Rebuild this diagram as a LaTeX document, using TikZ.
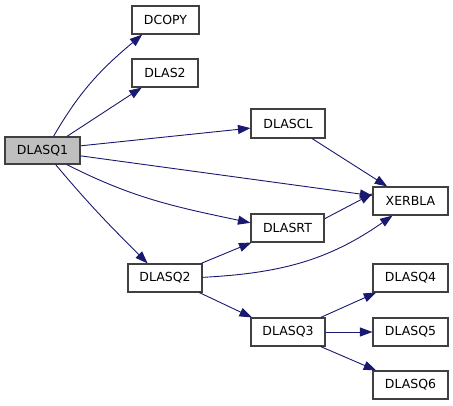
\documentclass[tikz,border=0pt]{standalone}
\usepackage{fontspec}
\setmainfont{DejaVu Sans}
\usetikzlibrary{arrows.meta}
\definecolor{edgec}{HTML}{191970}
\definecolor{boxc}{HTML}{404040}
\definecolor{mainfill}{HTML}{BFBFBF}
\begin{document}
\begin{tikzpicture}[x=1pt,y=-1pt,
  fn/.style={draw=boxc, line width=1.1pt, fill=white, minimum height=28pt, minimum width=74pt, inner sep=0pt, font=\fontsize{12.5}{14}\selectfont},
  call/.style={draw=edgec, line width=0.9pt, -{Triangle[length=12.5pt,width=9pt]}}]
\useasboundingbox (0,0) rectangle (453,405);
\node[fn, fill=mainfill, minimum width=75pt, minimum height=27pt] (dlasq1) at (42.5,150.5) {DLASQ1};
\node[fn, minimum width=67pt] (dcopy) at (165.5,20) {DCOPY};
\node[fn, minimum width=66pt] (dlas2) at (165,73) {DLAS2};
\node[fn, minimum height=29pt] (dlascl) at (288,123.5) {DLASCL};
\node[fn, minimum width=75pt] (xerbla) at (410.5,201) {XERBLA};
\node[fn, minimum width=73pt] (dlasrt) at (287.5,228) {DLASRT};
\node[fn] (dlasq2) at (165,278) {DLASQ2};
\node[fn] (dlasq3) at (288,332) {DLASQ3};
\node[fn, minimum width=75pt] (dlasq4) at (410.5,278) {DLASQ4};
\node[fn, minimum width=75pt] (dlasq5) at (410.5,332) {DLASQ5};
\node[fn, minimum width=75pt] (dlasq6) at (410.5,385) {DLASQ6};

\draw[call] (dlasq1.52) to[out=60,in=220] (dcopy.212);
\draw[call] (dlasq1.30) -- (dlas2.212);
\draw[call] (dlasq1.7) -- (dlascl.187);
\draw[call] (dlasq1.-8) -- (xerbla.172);
\draw[call] (dlasq1.-30) to[out=-27,in=168] (dlasrt.172);
\draw[call] (dlasq1.-47) to[out=-50,in=135] (dlasq2.140);
\draw[call] (dlascl.-32) -- (xerbla.148);
\draw[call] (dlasrt.14) -- (xerbla.169);
\draw[call] (dlasq2.22) -- (dlasrt.202);
\draw[call] (dlasq2.1) to[out=3,in=215] (xerbla.219);
\draw[call] (dlasq2.-23) -- (dlasq3.158);
\draw[call] (dlasq3.24) -- (dlasq4.203);
\draw[call] (dlasq3.east) -- (dlasq5.west);
\draw[call] (dlasq3.-24) -- (dlasq6.157);
\end{tikzpicture}
\end{document}
